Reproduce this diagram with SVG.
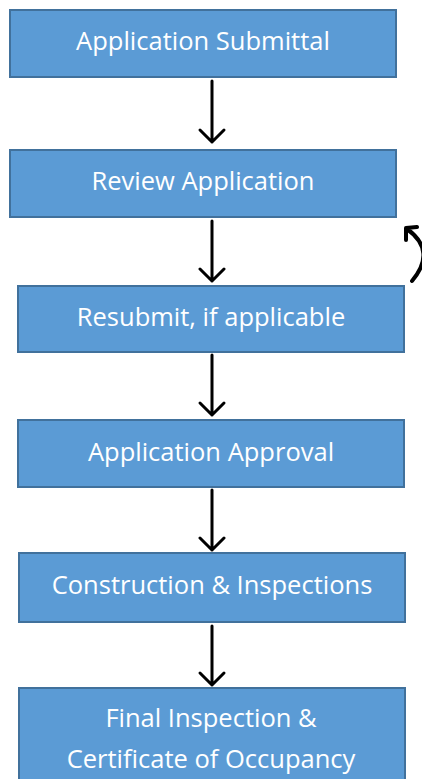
<svg xmlns="http://www.w3.org/2000/svg" width="422" height="779" viewBox="0 0 422 779">
<style>
.box{fill:#5B9BD5;stroke:#41719C;stroke-width:2}
.lbl{font-family:"Open Sans","Liberation Sans",sans-serif;font-size:25.5px;fill:#fff;text-anchor:middle}
.arr{fill:none;stroke:#000;stroke-width:3;stroke-linecap:round;stroke-linejoin:round}
</style>
<rect width="422" height="779" fill="#fff"/>
<g id="n1"><rect class="box" x="10" y="10" width="386" height="67"/><text class="lbl" x="203" y="50">Application Submittal</text></g>
<g id="n2"><rect class="box" x="10" y="150" width="386" height="67"/><text class="lbl" x="203" y="190">Review Application</text></g>
<g id="n3"><rect class="box" x="18" y="286" width="386" height="66"/><text class="lbl" x="211" y="326">Resubmit, if applicable</text></g>
<g id="n4"><rect class="box" x="18" y="420" width="386" height="67"/><text class="lbl" x="211" y="461">Application Approval</text></g>
<g id="n5"><rect class="box" x="19" y="553" width="386" height="69"/><text class="lbl" x="212" y="594">Construction &amp; Inspections</text></g>
<g id="n6"><rect class="box" x="19" y="688" width="386" height="100"/><text class="lbl" x="211" y="727">Final Inspection &amp;</text><text class="lbl" x="211" y="768">Certificate of Occupancy</text></g>
<g id="connectors">
<path class="arr" d="M212 81V142M200 130L212 142L224 130"/>
<path class="arr" d="M212 221V281M200 269L212 281L224 269"/>
<path class="arr" d="M212 355V415M200 403L212 415L224 403"/>
<path class="arr" d="M212 490V550M200 538L212 550L224 538"/>
<path class="arr" d="M212 626V685M200 673L212 685L224 673"/>
<path class="arr" style="stroke-width:4" d="M412 281C428 262 428 244 407 229M406 240L406 228L417 227"/>
</g>
</svg>
